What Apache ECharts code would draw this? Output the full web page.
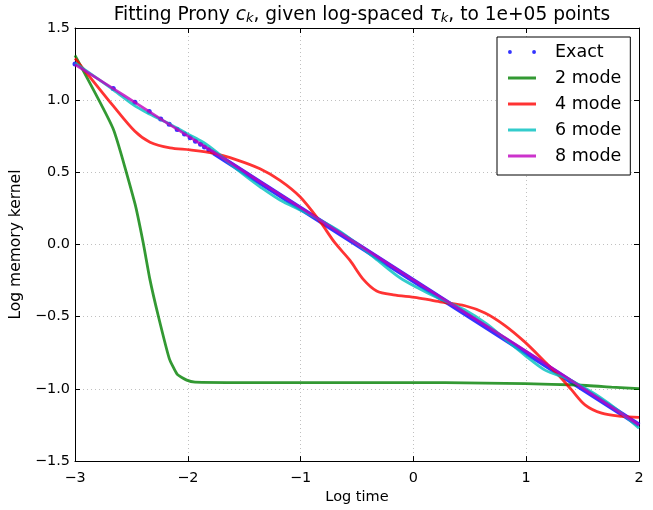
<!DOCTYPE html>
<html>
<head>
<meta charset="utf-8">
<script src="https://cdn.jsdelivr.net/npm/echarts@6/dist/echarts.min.js"></script>
<style>
  html, body { margin: 0; padding: 0; background: #fff; }
  #chart { width: 653px; height: 510px; }
</style>
</head>
<body>
<div id="chart"></div>
<script>
// Tick values
const xTicks = [-3, -2, -1, 0, 1, 2];
const yTicks = [-1.5, -1.0, -0.5, 0.0, 0.5, 1.0, 1.5];

// Exact kernel: sparse samples on the left show as separate dots
const exactDotX = [-3.0, -2.661, -2.469, -2.342, -2.24, -2.165, -2.094, -2.029, -1.979, -1.932, -1.887, -1.852, -1.814, -1.781];
const exactDotY = [1.25, 1.081, 0.985, 0.921, 0.87, 0.833, 0.797, 0.765, 0.740, 0.716, 0.694, 0.676, 0.657, 0.641];
// Dense samples further right merge into a solid band
const exactBandX = [-1.77, 2.0];
const exactBandY = [0.635, -1.25];

// 2-mode fit
const mode2X = [-3.0, -2.661, -2.469, -2.395, -2.336, -2.262, -2.164, -2.093, -2.01, -1.936, -1.5, 0.28, 0.99, 1.46, 1.757, 2.0];
const mode2Y = [1.31, 0.80, 0.285, 0.011, -0.241, -0.493, -0.79, -0.90, -0.939, -0.953, -0.956, -0.956, -0.964, -0.973, -0.987, -0.998];

// 4-mode fit
const mode4X = [-3.0, -2.661, -2.469, -2.335, -2.158, -1.98, -1.774, -1.567, -1.36, -1.183, -1.005, -0.828, -0.695, -0.562, -0.444, -0.326, -0.178, 0.029, 0.236, 0.457, 0.635, 0.812, 0.989, 1.167, 1.285, 1.403, 1.521, 1.669, 1.846, 2.0];
const mode4Y = [1.29, 0.96, 0.784, 0.709, 0.67, 0.656, 0.633, 0.587, 0.525, 0.445, 0.331, 0.16, 0.011, -0.11, -0.241, -0.321, -0.348, -0.367, -0.397, -0.424, -0.474, -0.561, -0.676, -0.813, -0.904, -1.007, -1.11, -1.168, -1.19, -1.197];

// 6-mode fit
const mode6X = [-3.0, -2.661, -2.469, -2.335, -2.158, -2.01, -1.863, -1.744, -1.626, -1.478, -1.36, -1.183, -1.005, -0.828, -0.651, -0.473, -0.3, -0.119, 0.05, 0.176, 0.28, 0.45, 0.65, 0.82, 0.989, 1.167, 1.35, 1.5, 1.65, 1.8, 2.0];
const mode6Y = [1.258, 1.072, 0.96, 0.903, 0.834, 0.77, 0.709, 0.64, 0.56, 0.468, 0.40, 0.308, 0.239, 0.171, 0.091, -0.012, -0.12, -0.23, -0.305, -0.355, -0.39, -0.45, -0.55, -0.66, -0.767, -0.87, -0.925, -0.985, -1.055, -1.14, -1.272];

// 8-mode fit
const mode8X = [-3.0, -2.661, -2.469, -2.2, -1.8, -1.3, -0.8, -0.3, 0.2, 0.7, 1.2, 1.6, 2.0];
const mode8Y = [1.247, 1.08, 0.985, 0.85, 0.655, 0.405, 0.155, -0.095, -0.345, -0.59, -0.84, -1.045, -1.25];

const pairs = (xs, ys) => xs.map((x, i) => [x, ys[i]]);
const minus = v => (v < 0 ? '\u2212' + Math.abs(v) : String(v));

const FONT = 'DejaVu Sans';
const gridLine = { show: true, lineStyle: { color: '#c0c0c0', type: [1, 3], width: 1 } };
const LW = 2.8;
const LINE_ICON = 'path://M0,0L28,0L28,3L0,3Z';

const chart = echarts.init(document.getElementById('chart'), null, { renderer: 'canvas' });

const lineSeries = (name, xs, ys, color, smooth) => ({
  name, type: 'line', data: pairs(xs, ys), symbol: 'none', showSymbol: false,
  smooth,
  lineStyle: { color, width: LW, opacity: 0.8 }, itemStyle: { color, opacity: 0.8 },
  animation: false, silent: true, xAxisIndex: 0, yAxisIndex: 0
});

chart.setOption({
  backgroundColor: '#ffffff',
  animation: false,
  title: {
    text: 'Fitting Prony {i|c}{s|k}, given log-spaced {i|τ}{s|k}, to 1e+05 points',
    left: 357, top: 0, textAlign: 'center',
    textStyle: {
      fontFamily: FONT, fontSize: 18.6, fontWeight: 'normal', color: '#000',
      rich: {
        i: { fontFamily: FONT, fontSize: 18.6, fontStyle: 'italic', color: '#000' },
        s: { fontFamily: FONT, fontSize: 13, fontStyle: 'italic', color: '#000', verticalAlign: 'bottom', padding: [7, 0, 0, 0] }
      }
    }
  },
  legend: {
    orient: 'vertical', left: 497, top: 37,
    padding: [5, 9, 9, 11], itemGap: 6,
    itemWidth: 28, itemHeight: 12,
    backgroundColor: '#ffffff', borderColor: '#000', borderWidth: 1, borderRadius: 0,
    textStyle: { fontFamily: FONT, fontSize: 17.5, color: '#000', lineHeight: 20, padding: [0, 0, 0, 14] },
    data: [
      { name: 'Exact', icon: 'path://M0,2a2,2 0 1,0 4,0a2,2 0 1,0 -4,0M25,2a2,2 0 1,0 4,0a2,2 0 1,0 -4,0' },
      { name: '2 mode', icon: LINE_ICON }, { name: '4 mode', icon: LINE_ICON },
      { name: '6 mode', icon: LINE_ICON }, { name: '8 mode', icon: LINE_ICON }
    ],
    selectedMode: false
  },
  grid: { left: 75, right: 14, top: 28, bottom: 45, containLabel: false },
  xAxis: [{
    type: 'value', min: -3, max: 2, interval: 1,
    name: 'Log time', nameLocation: 'middle', nameGap: 25,
    nameTextStyle: { fontFamily: FONT, fontSize: 14.5, color: '#000' },
    axisLine: { show: true, onZero: false, lineStyle: { color: '#000', width: 1 } },
    axisTick: { show: true, inside: true, length: 5, lineStyle: { color: '#000' } },
    axisLabel: { fontFamily: FONT, fontSize: 14.4, color: '#000', margin: 10, formatter: minus },
    splitLine: gridLine
  }, {
    type: 'value', min: -3, max: 2, interval: 1, position: 'top',
    axisLine: { show: true, onZero: false, lineStyle: { color: '#000', width: 1 } },
    axisTick: { show: true, inside: true, length: 5, lineStyle: { color: '#000' } },
    axisLabel: { show: false }, splitLine: { show: false }
  }],
  yAxis: [{
    type: 'value', min: -1.5, max: 1.5, interval: 0.5,
    name: 'Log memory kernel', nameLocation: 'middle', nameGap: 45, nameRotate: 90,
    nameTextStyle: { fontFamily: FONT, fontSize: 15.5, color: '#000' },
    axisLine: { show: true, onZero: false, lineStyle: { color: '#000', width: 1 } },
    axisTick: { show: true, inside: true, length: 5, lineStyle: { color: '#000' } },
    axisLabel: { fontFamily: FONT, fontSize: 14.4, color: '#000', margin: 5,
      formatter: v => (v < 0 ? '\u2212' + Math.abs(v).toFixed(1) : v.toFixed(1)) },
    splitLine: gridLine
  }, {
    type: 'value', min: -1.5, max: 1.5, interval: 0.5, position: 'right',
    axisLine: { show: true, onZero: false, lineStyle: { color: '#000', width: 1 } },
    axisTick: { show: true, inside: true, length: 5, lineStyle: { color: '#000' } },
    axisLabel: { show: false }, splitLine: { show: false }
  }],
  series: [
    {
      name: 'Exact', type: 'scatter', data: pairs(exactDotX, exactDotY),
      symbol: 'circle', symbolSize: 5, itemStyle: { color: '#0000ff', opacity: 0.8 },
      animation: false, silent: true, xAxisIndex: 0, yAxisIndex: 0
    },
    {
      name: 'Exact', type: 'line', data: pairs(exactBandX, exactBandY), symbol: 'none',
      lineStyle: { color: '#0000ff', width: 5, opacity: 0.8 }, itemStyle: { color: '#0000ff', opacity: 0.8 },
      animation: false, silent: true, xAxisIndex: 0, yAxisIndex: 0
    },
    lineSeries('2 mode', mode2X, mode2Y, '#008000', 0.15),
    lineSeries('4 mode', mode4X, mode4Y, '#ff0000', 0.3),
    lineSeries('6 mode', mode6X, mode6Y, '#00bfbf', 0.3),
    lineSeries('8 mode', mode8X, mode8Y, '#bf00bf', 0.3)
  ]
});
</script>
</body>
</html>
